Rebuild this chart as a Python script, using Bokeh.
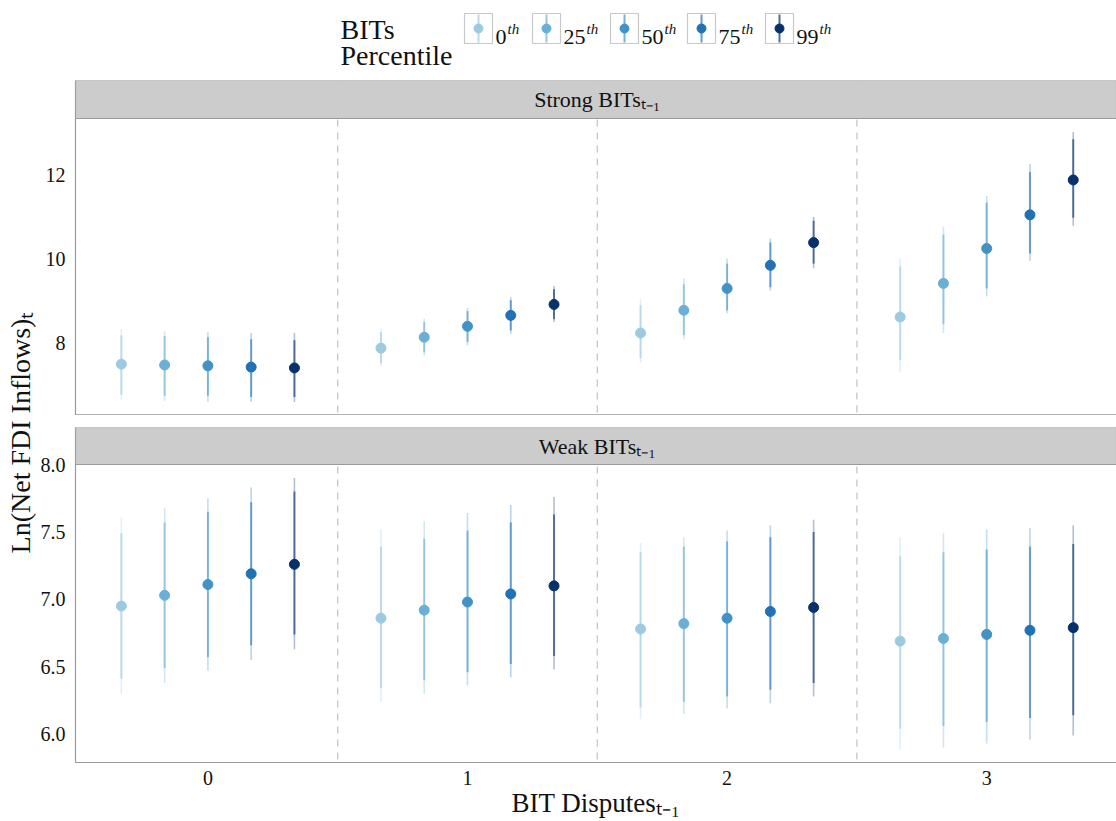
import math

from bokeh.core.properties import value
from bokeh.embed import file_html
from bokeh.layouts import column, row
from bokeh.models import (BoxAnnotation, ColumnDataSource, FixedTicker, Label,
                          NumeralTickFormatter, Range1d, Span)
from bokeh.plotting import figure
from bokeh.resources import INLINE

FONT = "Liberation Serif"
INK = "#111111"
RULE = "#9a9a9a"

# ---- data -------------------------------------------------------------
percentiles = ["0", "25", "50", "75", "99"]
colors = ["#9ecae1", "#6baed6", "#4292c6", "#2171b5", "#08306b"]
disputes = [0, 1, 2, 3]

# Strong BITs(t-1): one row per dispute count, one column per percentile
strong_est = [
    [7.50, 7.48, 7.46, 7.43, 7.41],
    [7.88, 8.14, 8.40, 8.66, 8.92],
    [8.24, 8.78, 9.30, 9.85, 10.39],
    [8.62, 9.42, 10.25, 11.05, 11.88],
]
strong_lo90 = [
    [6.77, 6.75, 6.75, 6.72, 6.72],
    [7.52, 7.78, 8.03, 8.30, 8.57],
    [7.64, 8.19, 8.78, 9.33, 9.89],
    [7.60, 8.45, 9.30, 10.13, 10.98],
]
strong_hi90 = [
    [8.19, 8.17, 8.14, 8.09, 8.07],
    [8.26, 8.50, 8.76, 9.02, 9.28],
    [8.90, 9.40, 9.89, 10.39, 10.91],
    [9.82, 10.58, 11.34, 12.07, 12.85],
]
strong_lo95 = [
    [6.65, 6.63, 6.60, 6.60, 6.60],
    [7.45, 7.70, 7.95, 8.22, 8.50],
    [7.53, 8.09, 8.71, 9.25, 9.78],
    [7.31, 8.24, 9.11, 9.96, 10.79],
]
strong_hi95 = [
    [8.33, 8.28, 8.26, 8.24, 8.24],
    [8.35, 8.58, 8.84, 9.10, 9.36],
    [9.04, 9.54, 10.01, 10.49, 11.00],
    [10.01, 10.77, 11.50, 12.26, 13.02],
]

# Weak BITs(t-1)
weak_est = [
    [6.95, 7.03, 7.11, 7.19, 7.26],
    [6.86, 6.92, 6.98, 7.04, 7.10],
    [6.78, 6.82, 6.86, 6.91, 6.94],
    [6.69, 6.71, 6.74, 6.77, 6.79],
]
weak_lo90 = [
    [6.41, 6.49, 6.57, 6.66, 6.74],
    [6.34, 6.40, 6.46, 6.52, 6.58],
    [6.20, 6.24, 6.28, 6.33, 6.38],
    [6.04, 6.06, 6.09, 6.12, 6.14],
]
weak_hi90 = [
    [7.49, 7.57, 7.65, 7.72, 7.80],
    [7.39, 7.45, 7.51, 7.57, 7.63],
    [7.35, 7.39, 7.43, 7.46, 7.50],
    [7.32, 7.35, 7.37, 7.39, 7.41],
]
weak_lo95 = [
    [6.30, 6.38, 6.47, 6.55, 6.63],
    [6.24, 6.30, 6.36, 6.42, 6.48],
    [6.11, 6.15, 6.19, 6.23, 6.28],
    [5.89, 5.90, 5.93, 5.96, 5.99],
]
weak_hi95 = [
    [7.61, 7.68, 7.75, 7.83, 7.90],
    [7.52, 7.58, 7.64, 7.70, 7.76],
    [7.42, 7.46, 7.51, 7.55, 7.59],
    [7.46, 7.49, 7.52, 7.53, 7.55],
]

strong_ticks = [8, 10, 12]
weak_ticks = [6.0, 6.5, 7.0, 7.5, 8.0]

# ---- layout constants -------------------------------------------------
DODGE = 0.8333
YLAB_W = 36
LEFT = 75
FRAME_W = 1041
LEGEND_H = 80


def long_form(est, lo90, hi90, lo95, hi95):
    n = len(percentiles)
    cols = {k: [] for k in ("x", "est", "lo90", "hi90", "lo95", "hi95", "color")}
    for g, d in enumerate(disputes):
        for i in range(n):
            cols["x"].append(d + (i - (n - 1) / 2) * DODGE / n)
            cols["est"].append(est[g][i])
            cols["lo90"].append(lo90[g][i])
            cols["hi90"].append(hi90[g][i])
            cols["lo95"].append(lo95[g][i])
            cols["hi95"].append(hi95[g][i])
            cols["color"].append(colors[i])
    return cols


def panel(cols, title, ticks, fmt, data_h, strip_h, gap_top, with_x):
    """One facet: a grey title strip on top of the data area, in one frame."""
    lo = min(cols["lo95"])
    hi = max(cols["hi95"])
    pad = 0.05 * (hi - lo)
    y0, y1 = lo - pad, hi + pad
    strip_units = strip_h * (y1 - y0) / data_h

    p = figure(frame_width=FRAME_W, frame_height=data_h + strip_h,
               x_range=Range1d(disputes[0] - 0.51, disputes[-1] + 0.5),
               y_range=Range1d(y0, y1 + strip_units),
               min_border_left=LEFT - YLAB_W, min_border_right=0,
               min_border_top=gap_top, min_border_bottom=59 if with_x else 0,
               outline_line_color=None, background_fill_color="white",
               border_fill_color="white",
               toolbar_location=None, output_backend="svg")
    p.grid.visible = False

    for d in disputes[:-1]:
        p.add_layout(Span(location=d + 0.5, dimension="height", line_color="#c6c6c6",
                          line_width=1.3, line_dash="7 6", level="underlay"))

    src = ColumnDataSource(cols)
    p.segment(x0="x", y0="lo95", x1="x", y1="hi95", source=src,
              line_color="color", line_alpha=0.3, line_width=1.6)
    p.segment(x0="x", y0="lo90", x1="x", y1="hi90", source=src,
              line_color="color", line_alpha=0.6, line_width=2.0)
    p.scatter(x="x", y="est", source=src, size=10,
              fill_color="color", line_color="color")

    # facet strip
    p.add_layout(BoxAnnotation(bottom=y1, fill_color="#cccccc", fill_alpha=1.0,
                               line_color=RULE, line_width=1.2, line_alpha=1.0))
    p.add_layout(Label(x=(disputes[0] + disputes[-1]) / 2, y=y1 + strip_units / 2,
                       text=title, text_align="center", text_baseline="middle",
                       text_font=FONT, text_font_size="22px", text_color=INK))

    ya = p.yaxis[0]
    ya.ticker = FixedTicker(ticks=ticks)
    ya.formatter = NumeralTickFormatter(format=fmt)
    ya.axis_line_color = RULE
    ya.axis_line_width = 1.2
    ya.major_tick_line_color = None
    ya.minor_tick_line_color = None
    ya.major_tick_out = 0
    ya.major_label_standoff = 10
    ya.major_label_text_font = FONT
    ya.major_label_text_font_size = "20px"
    ya.major_label_text_color = INK

    if with_x:
        xa = p.xaxis[0]
        xa.ticker = FixedTicker(ticks=disputes)
        xa.axis_line_color = RULE
        xa.axis_line_width = 1.2
        xa.major_tick_line_color = None
        xa.minor_tick_line_color = None
        xa.major_tick_out = 0
        xa.major_tick_in = 0
        xa.major_label_standoff = 8
        xa.major_label_text_font = FONT
        xa.major_label_text_font_size = "20px"
        xa.major_label_text_color = INK
        xa.axis_label = "BIT Disputesₜ₋₁"
        xa.axis_label_standoff = 0
        xa.axis_label_text_font = FONT
        xa.axis_label_text_font_size = "27px"
        xa.axis_label_text_font_style = "normal"
        xa.axis_label_text_color = INK
    else:
        # no tick labels here: only the panel's bottom rule
        p.xaxis.visible = False
        p.add_layout(Span(location=y0, dimension="width",
                          line_color=RULE, line_width=2.4))
    return p


strong = panel(long_form(strong_est, strong_lo90, strong_hi90, strong_lo95, strong_hi95),
               "Strong BITsₜ₋₁", strong_ticks, "0", 297, 38, 0, False)
weak = panel(long_form(weak_est, weak_lo90, weak_hi90, weak_lo95, weak_hi95),
             "Weak BITsₜ₋₁", weak_ticks, "0.0", 298, 37, 12, True)

# ---- shared y-axis title ------------------------------------------------
BODY_H = 821 - LEGEND_H
ylab = figure(frame_width=YLAB_W, frame_height=BODY_H,
              x_range=Range1d(0, YLAB_W), y_range=Range1d(0, BODY_H),
              x_axis_location=None, y_axis_location=None,
              min_border=0, outline_line_color=None,
              toolbar_location=None, output_backend="svg")
ylab.grid.visible = False
ylab.text(x=[20], y=[BODY_H - (432 - LEGEND_H)], text=["Ln(Net FDI Inflows)ₜ"],
          angle=math.pi / 2, text_align="center", text_baseline="middle",
          text_font=value(FONT), text_font_size="28px", text_color=INK)

# ---- legend header ------------------------------------------------------
leg = figure(frame_width=1116, frame_height=LEGEND_H,
             x_range=Range1d(0, 1116), y_range=Range1d(LEGEND_H, 0),
             x_axis_location=None, y_axis_location=None,
             min_border=0, outline_line_color=None,
             toolbar_location=None, output_backend="svg")
leg.grid.visible = False
leg.text(x=[340, 340], y=[29, 55], text=["BITs", "Percentile"],
         text_align="left", text_baseline="alphabetic",
         text_font=value(FONT), text_font_size="28px", text_color=INK)

key_left = [464, 532, 610, 687, 765]
key_w, key_h, key_mid = 28, 30, 28
kx = [k + key_w / 2 for k in key_left]
leg.rect(x=kx, y=[key_mid] * 5, width=key_w, height=key_h,
         fill_color="white", line_color="#c8c8c8", line_width=1.2)
leg.segment(x0=kx, y0=[key_mid - key_h / 2 + 1] * 5, x1=kx, y1=[key_mid + key_h / 2 - 1] * 5,
            line_color=colors, line_alpha=0.7, line_width=2)
leg.scatter(x=kx, y=[key_mid] * 5, size=9, fill_color=colors, line_color=colors)

LAB_PX = 22
lab_x = [k + key_w + 3 for k in key_left]
leg.text(x=lab_x, y=[key_mid + 8] * 5, text=percentiles,
         text_align="left", text_baseline="alphabetic",
         text_font=value(FONT), text_font_size=f"{LAB_PX}px", text_color=INK)
# ordinal suffix as a raised italic superscript (digits are 0.5 em wide)
leg.text(x=[x + 0.5 * LAB_PX * len(p) + 1 for x, p in zip(lab_x, percentiles)],
         y=[key_mid] * 5, text=["th"] * 5,
         text_align="left", text_baseline="alphabetic",
         text_font=value(FONT), text_font_size="15px", text_font_style="italic",
         text_color=INK)

body = column(strong, weak, spacing=0)
page = column(leg, row(ylab, body, spacing=0), spacing=0)

open("out.html", "w").write(file_html(page, INLINE))
